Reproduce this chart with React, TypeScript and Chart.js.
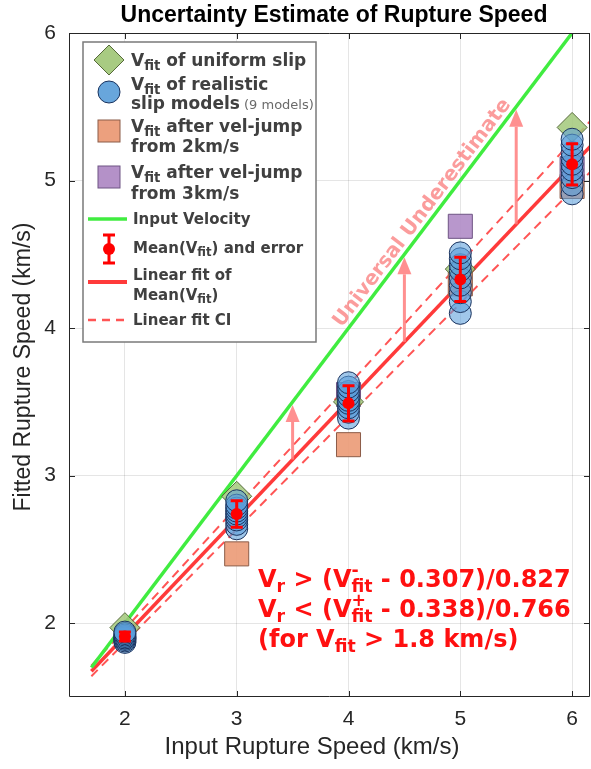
import React, { useEffect, useRef } from "react";
import { Chart, registerables } from "chart.js";
Chart.register(...registerables);

// ---------------- data ----------------
const inputSpeeds = [2, 3, 4, 5, 6];
const uniformSlip = [1.97, 2.86, 3.5, 4.4, 5.36];
const realisticSlip = [
  [1.87, 1.88, 1.89, 1.9, 1.9, 1.91, 1.92, 1.93, 1.94],
  [2.64, 2.67, 2.7, 2.72, 2.74, 2.76, 2.78, 2.8, 2.83],
  [3.39, 3.43, 3.46, 3.49, 3.51, 3.54, 3.57, 3.6, 3.63],
  [4.1, 4.18, 4.24, 4.29, 4.34, 4.39, 4.43, 4.47, 4.51],
  [4.91, 4.97, 5.02, 5.07, 5.11, 5.15, 5.19, 5.24, 5.28],
];
const jumpFrom2X = [3, 4, 5, 6];
const jumpFrom2 = [2.47, 3.21, 4.3, 4.96];
const jumpFrom3X = [4, 5, 6];
const jumpFrom3 = [3.55, 4.69, 5.08];
const meanFit = [1.91, 2.74, 3.49, 4.33, 5.11];
const meanErr = [0.03, 0.09, 0.12, 0.15, 0.14];
const inputLineX = [1.7, 6];
const fitLineX = [1.7, 6.4];
const meanFitCoef = [0.797, 0.32]; // slope, intercept
const ciUpperCoef = [0.827, 0.307];
const ciLowerCoef = [0.766, 0.338];
const arrowX = [3.5, 4.5, 5.5];
const xTicks = [2, 3, 4, 5, 6];
const yTicks = [2, 3, 4, 5, 6];
const xRange = [1.5, 6.16];
const yRange = [1.5, 6];

const lin = (c: number[], x: number) => c[0] * x + c[1];

type Part = { t?: string; sub?: string; sup?: string; weight?: string; color?: string; size?: number };

function drawRich(
  ctx: CanvasRenderingContext2D,
  x: number,
  y: number,
  parts: Part[],
  size: number,
  family: string,
  weight: string,
  color: string,
  subScale = 0.78
) {
  let cx = x;
  ctx.textAlign = "left";
  ctx.textBaseline = "alphabetic";
  for (const p of parts) {
    const w = p.weight ?? weight;
    ctx.fillStyle = p.color ?? color;
    if (p.sub !== undefined || p.sup !== undefined) {
      const s = size * subScale;
      ctx.font = `${w} ${s}px ${family}`;
      let adv = 0;
      if (p.sup) {
        ctx.fillText(p.sup, cx, y - size * 0.45);
        adv = Math.max(adv, ctx.measureText(p.sup).width);
      }
      if (p.sub) {
        ctx.fillText(p.sub, cx, y + size * 0.22);
        adv = Math.max(adv, ctx.measureText(p.sub).width);
      }
      cx += adv;
    } else {
      const s = p.size ?? size;
      ctx.font = `${w} ${s}px ${family}`;
      ctx.fillText(p.t || "", cx, y);
      cx += ctx.measureText(p.t || "").width;
    }
  }
}

const COL = {
  diamond: "rgba(162,200,122,0.85)",
  diamondEdge: "#566a3a",
  circle: "rgba(92,158,218,0.58)",
  circleEdge: "#1b335e",
  orange: "rgba(236,156,120,0.92)",
  orangeEdge: "#8c5c48",
  purple: "rgba(178,142,200,0.92)",
  purpleEdge: "#6e5484",
  green: "rgb(64,236,64)",
  red: "rgb(255,58,58)",
  redDash: "rgb(255,85,85)",
  arrow: "rgba(255,125,125,0.85)",
};

const LEG_FONT = "'DejaVu Sans'";
const AX_FONT = "'Liberation Sans', Arial, sans-serif";

const overlayPlugin = {
  id: "overlay",
  afterDatasetsDraw(chart: any) {
    const ctx: CanvasRenderingContext2D = chart.ctx;
    const xs = chart.scales.x;
    const ys = chart.scales.y;
    const ca = chart.chartArea;
    ctx.save();
    ctx.beginPath();
    ctx.rect(ca.left, ca.top, ca.right - ca.left, ca.bottom - ca.top);
    ctx.clip();

    // arrows
    arrowX.forEach((ax) => {
      const px = xs.getPixelForValue(ax);
      const y0 = ys.getPixelForValue(lin(meanFitCoef, ax));
      const y1 = ys.getPixelForValue(ax) + 3;
      const head = 17;
      ctx.strokeStyle = COL.arrow;
      ctx.fillStyle = COL.arrow;
      ctx.lineWidth = 3;
      ctx.beginPath();
      ctx.moveTo(px, y0);
      ctx.lineTo(px, y1 + head);
      ctx.stroke();
      ctx.beginPath();
      ctx.moveTo(px, y1);
      ctx.lineTo(px - 7, y1 + head);
      ctx.lineTo(px + 7, y1 + head);
      ctx.closePath();
      ctx.fill();
    });

    // Universal Underestimate text
    {
      const cxp = xs.getPixelForValue(4.66);
      const cyp = ys.getPixelForValue(4.78);
      const ang = Math.atan2(ys.getPixelForValue(6) - ys.getPixelForValue(2), xs.getPixelForValue(6) - xs.getPixelForValue(2));
      ctx.save();
      ctx.translate(cxp, cyp);
      ctx.rotate(ang);
      ctx.font = `bold 20px ${LEG_FONT}`;
      ctx.fillStyle = "rgba(250,118,118,0.72)";
      ctx.textAlign = "center";
      ctx.textBaseline = "middle";
      ctx.fillText("Universal Underestimate", 0, 0);
      ctx.restore();
    }

    // error bars
    inputSpeeds.forEach((xv, i) => {
      const px = xs.getPixelForValue(xv);
      const yt = ys.getPixelForValue(meanFit[i] + meanErr[i]);
      const yb = ys.getPixelForValue(meanFit[i] - meanErr[i]);
      ctx.strokeStyle = "rgb(255,0,0)";
      ctx.lineWidth = 3;
      ctx.beginPath();
      ctx.moveTo(px, yt);
      ctx.lineTo(px, yb);
      ctx.moveTo(px - 6, yt);
      ctx.lineTo(px + 6, yt);
      ctx.moveTo(px - 6, yb);
      ctx.lineTo(px + 6, yb);
      ctx.stroke();
      ctx.fillStyle = "rgb(255,0,0)";
      ctx.beginPath();
      ctx.arc(px, ys.getPixelForValue(meanFit[i]), 6, 0, Math.PI * 2);
      ctx.fill();
    });
    ctx.restore();
  },
  afterDraw(chart: any) {
    const ctx: CanvasRenderingContext2D = chart.ctx;
    const xs = chart.scales.x;
    const ys = chart.scales.y;
    const ca = chart.chartArea;
    ctx.save();

    // box and inner ticks
    ctx.strokeStyle = "#262626";
    ctx.lineWidth = 1;
    ctx.beginPath();
    ctx.rect(ca.left + 0.5, ca.top + 0.5, ca.right - ca.left - 1, ca.bottom - ca.top - 1);
    ctx.stroke();
    ctx.beginPath();
    xTicks.forEach((t) => {
      const px = Math.round(xs.getPixelForValue(t)) + 0.5;
      ctx.moveTo(px, ca.bottom);
      ctx.lineTo(px, ca.bottom - 6);
      ctx.moveTo(px, ca.top);
      ctx.lineTo(px, ca.top + 6);
    });
    yTicks.forEach((t) => {
      const py = Math.round(ys.getPixelForValue(t)) + 0.5;
      ctx.moveTo(ca.left, py);
      ctx.lineTo(ca.left + 6, py);
      ctx.moveTo(ca.right, py);
      ctx.lineTo(ca.right - 6, py);
    });
    ctx.stroke();

    // title & axis titles
    ctx.fillStyle = "#000";
    ctx.font = `bold 23px ${AX_FONT}`;
    ctx.textAlign = "center";
    ctx.textBaseline = "alphabetic";
    ctx.fillText("Uncertainty Estimate of Rupture Speed", 334, 22);
    ctx.fillStyle = "#262626";
    ctx.font = `24px ${AX_FONT}`;
    ctx.fillText("Input Rupture Speed (km/s)", 312, 754);
    ctx.font = `23px ${AX_FONT}`;
    ctx.save();
    ctx.translate(30, 367);
    ctx.rotate(-Math.PI / 2);
    ctx.fillText("Fitted Rupture Speed (km/s)", 0, 0);
    ctx.restore();

    // bottom-right annotation
    const AS = 24;
    const red = "rgb(255,16,16)";
    drawRich(ctx, 258, 587, [{ t: "V" }, { sub: "r" }, { t: " > (V" }, { sup: "-", sub: "fit" }, { t: " - 0.307)/0.827" }], AS, LEG_FONT, "bold", red, 0.72);
    drawRich(ctx, 258, 617, [{ t: "V" }, { sub: "r" }, { t: " < (V" }, { sup: "+", sub: "fit" }, { t: " - 0.338)/0.766" }], AS, LEG_FONT, "bold", red, 0.72);
    drawRich(ctx, 258, 647, [{ t: "(for V" }, { sub: "fit" }, { t: " > 1.8 km/s)" }], AS, LEG_FONT, "bold", red, 0.72);

    // legend
    ctx.fillStyle = "#fff";
    ctx.fillRect(83, 42, 233, 300);
    ctx.strokeStyle = "#7a7a7a";
    ctx.lineWidth = 1.5;
    ctx.strokeRect(83, 42, 233, 300);
    const LS = 17;
    const tc = "#404040";
    const sx = 109;
    // diamond
    ctx.fillStyle = "rgb(168,203,130)";
    ctx.strokeStyle = COL.diamondEdge;
    ctx.lineWidth = 1;
    ctx.beginPath();
    ctx.moveTo(sx, 60 - 15);
    ctx.lineTo(sx + 15, 60);
    ctx.lineTo(sx, 60 + 15);
    ctx.lineTo(sx - 15, 60);
    ctx.closePath();
    ctx.fill();
    ctx.stroke();
    drawRich(ctx, 131, 66, [{ t: "V" }, { sub: "fit" }, { t: " of uniform slip" }], LS, LEG_FONT, "bold", tc);
    // circle
    ctx.fillStyle = "rgb(104,166,220)";
    ctx.strokeStyle = COL.circleEdge;
    ctx.beginPath();
    ctx.arc(sx, 92, 11, 0, Math.PI * 2);
    ctx.fill();
    ctx.stroke();
    drawRich(ctx, 131, 90, [{ t: "V" }, { sub: "fit" }, { t: " of realistic" }], LS, LEG_FONT, "bold", tc);
    drawRich(ctx, 131, 109, [{ t: "slip models" }, { t: " (9 models)", weight: "normal", size: 13, color: "#6a6a6a" }], LS, LEG_FONT, "bold", tc);
    // orange square
    ctx.fillStyle = "rgb(236,160,126)";
    ctx.strokeStyle = COL.orangeEdge;
    ctx.fillRect(sx - 11, 131 - 11, 22, 22);
    ctx.strokeRect(sx - 11, 131 - 11, 22, 22);
    drawRich(ctx, 131, 132, [{ t: "V" }, { sub: "fit" }, { t: " after vel-jump" }], LS, LEG_FONT, "bold", tc);
    drawRich(ctx, 131, 152, [{ t: "from 2km/s" }], LS, LEG_FONT, "bold", tc);
    // purple square
    ctx.fillStyle = "rgb(180,145,200)";
    ctx.strokeStyle = COL.purpleEdge;
    ctx.fillRect(sx - 11, 177 - 11, 22, 22);
    ctx.strokeRect(sx - 11, 177 - 11, 22, 22);
    drawRich(ctx, 131, 178, [{ t: "V" }, { sub: "fit" }, { t: " after vel-jump" }], LS, LEG_FONT, "bold", tc);
    drawRich(ctx, 131, 199, [{ t: "from 3km/s" }], LS, LEG_FONT, "bold", tc);
    // green line
    ctx.strokeStyle = COL.green;
    ctx.lineWidth = 3.5;
    ctx.beginPath();
    ctx.moveTo(88, 219);
    ctx.lineTo(127, 219);
    ctx.stroke();
    drawRich(ctx, 133, 224, [{ t: "Input Velocity" }], 15, LEG_FONT, "bold", tc);
    // errorbar
    ctx.strokeStyle = "rgb(255,0,0)";
    ctx.lineWidth = 3;
    ctx.beginPath();
    ctx.moveTo(sx, 235);
    ctx.lineTo(sx, 263);
    ctx.moveTo(sx - 6, 235);
    ctx.lineTo(sx + 6, 235);
    ctx.moveTo(sx - 6, 263);
    ctx.lineTo(sx + 6, 263);
    ctx.stroke();
    ctx.fillStyle = "rgb(255,0,0)";
    ctx.beginPath();
    ctx.arc(sx, 249, 6, 0, Math.PI * 2);
    ctx.fill();
    drawRich(ctx, 133, 253, [{ t: "Mean(V" }, { sub: "fit" }, { t: ") and error" }], 15, LEG_FONT, "bold", tc);
    // red line
    ctx.strokeStyle = COL.red;
    ctx.lineWidth = 4;
    ctx.beginPath();
    ctx.moveTo(88, 282);
    ctx.lineTo(127, 282);
    ctx.stroke();
    drawRich(ctx, 133, 280, [{ t: "Linear fit of" }], 15, LEG_FONT, "bold", tc);
    drawRich(ctx, 133, 300, [{ t: "Mean(V" }, { sub: "fit" }, { t: ")" }], 15, LEG_FONT, "bold", tc);
    // dashed
    ctx.strokeStyle = COL.redDash;
    ctx.lineWidth = 2.5;
    ctx.setLineDash([8, 6]);
    ctx.beginPath();
    ctx.moveTo(88, 320);
    ctx.lineTo(127, 320);
    ctx.stroke();
    ctx.setLineDash([]);
    drawRich(ctx, 133, 325, [{ t: "Linear fit CI" }], 15, LEG_FONT, "bold", tc);

    ctx.restore();
  },
};

export default function App() {
  const ref = useRef<HTMLCanvasElement | null>(null);
  useEffect(() => {
    document.body.style.margin = "0";
    const canvas = ref.current;
    if (!canvas) return;
    const pts = (xsArr: number[], ysArr: number[]) => xsArr.map((x, i) => ({ x, y: ysArr[i] }));
    const realisticPts: { x: number; y: number }[] = [];
    inputSpeeds.forEach((x, i) => realisticSlip[i].forEach((y) => realisticPts.push({ x, y })));
    const lineDs = (xsArr: number[], coef: number[] | null, color: string, width: number, dash: number[]) => ({
      type: "scatter" as const,
      data: xsArr.map((x) => ({ x, y: coef ? lin(coef, x) : x })),
      showLine: true,
      borderColor: color,
      borderWidth: width,
      borderDash: dash,
      pointRadius: 0,
      fill: false,
      clip: 0,
      order: 10,
    });
    const chart = new Chart(canvas, {
      type: "scatter",
      data: {
        datasets: [
          lineDs(inputLineX, null, COL.green, 3.5, []),
          lineDs(fitLineX, ciUpperCoef, COL.redDash, 2, [9, 6]),
          lineDs(fitLineX, ciLowerCoef, COL.redDash, 2, [9, 6]),
          lineDs(fitLineX, meanFitCoef, COL.red, 3.5, []),
          {
            data: pts(inputSpeeds, uniformSlip),
            pointStyle: "rectRot",
            pointRadius: 15,
            backgroundColor: COL.diamond,
            borderColor: COL.diamondEdge,
            borderWidth: 1,
            order: 6,
          } as any,
          {
            data: realisticPts,
            pointStyle: "circle",
            pointRadius: 11,
            backgroundColor: COL.circle,
            borderColor: COL.circleEdge,
            borderWidth: 1,
            order: 5,
          },
          {
            data: pts(jumpFrom2X, jumpFrom2),
            pointStyle: "rect",
            pointRadius: 17,
            backgroundColor: COL.orange,
            borderColor: COL.orangeEdge,
            borderWidth: 1,
            order: 8,
          },
          {
            data: pts(jumpFrom3X, jumpFrom3),
            pointStyle: "rect",
            pointRadius: 17,
            backgroundColor: COL.purple,
            borderColor: COL.purpleEdge,
            borderWidth: 1,
            order: 7,
          },
        ] as any,
      },
      options: {
        animation: false,
        responsive: false,
        devicePixelRatio: 1,
        layout: { autoPadding: false, padding: { top: 33, right: 1, left: 0, bottom: 0 } },
        plugins: { legend: { display: false }, tooltip: { enabled: false }, title: { display: false } },
        scales: {
          x: {
            type: "linear",
            min: xRange[0],
            max: xRange[1],
            afterBuildTicks: (axis: any) => {
              axis.ticks = xTicks.map((v) => ({ value: v }));
            },
            afterFit: (scale: any) => {
              scale.height = 72;
              scale.paddingLeft = 0;
              scale.paddingRight = 0;
            },
            grid: { color: "rgba(0,0,0,0.1)", drawTicks: false },
            border: { display: false },
            ticks: {
              padding: 10,
              color: "#262626",
              font: { size: 21, family: AX_FONT },
              maxRotation: 0,
            },
          },
          y: {
            type: "linear",
            min: yRange[0],
            max: yRange[1],
            afterBuildTicks: (axis: any) => {
              axis.ticks = yTicks.map((v) => ({ value: v }));
            },
            afterFit: (scale: any) => {
              scale.width = 69;
              scale.paddingTop = 0;
              scale.paddingBottom = 0;
            },
            grid: { color: "rgba(0,0,0,0.1)", drawTicks: false },
            border: { display: false },
            ticks: {
              padding: 13,
              color: "#262626",
              font: { size: 21, family: AX_FONT },
            },
          },
        },
      } as any,
      plugins: [overlayPlugin],
    });
    return () => chart.destroy();
  }, []);
  return (
    <div style={{ width: 591, height: 769 }}>
      <canvas ref={ref} width={591} height={769} style={{ display: "block" }} />
    </div>
  );
}
